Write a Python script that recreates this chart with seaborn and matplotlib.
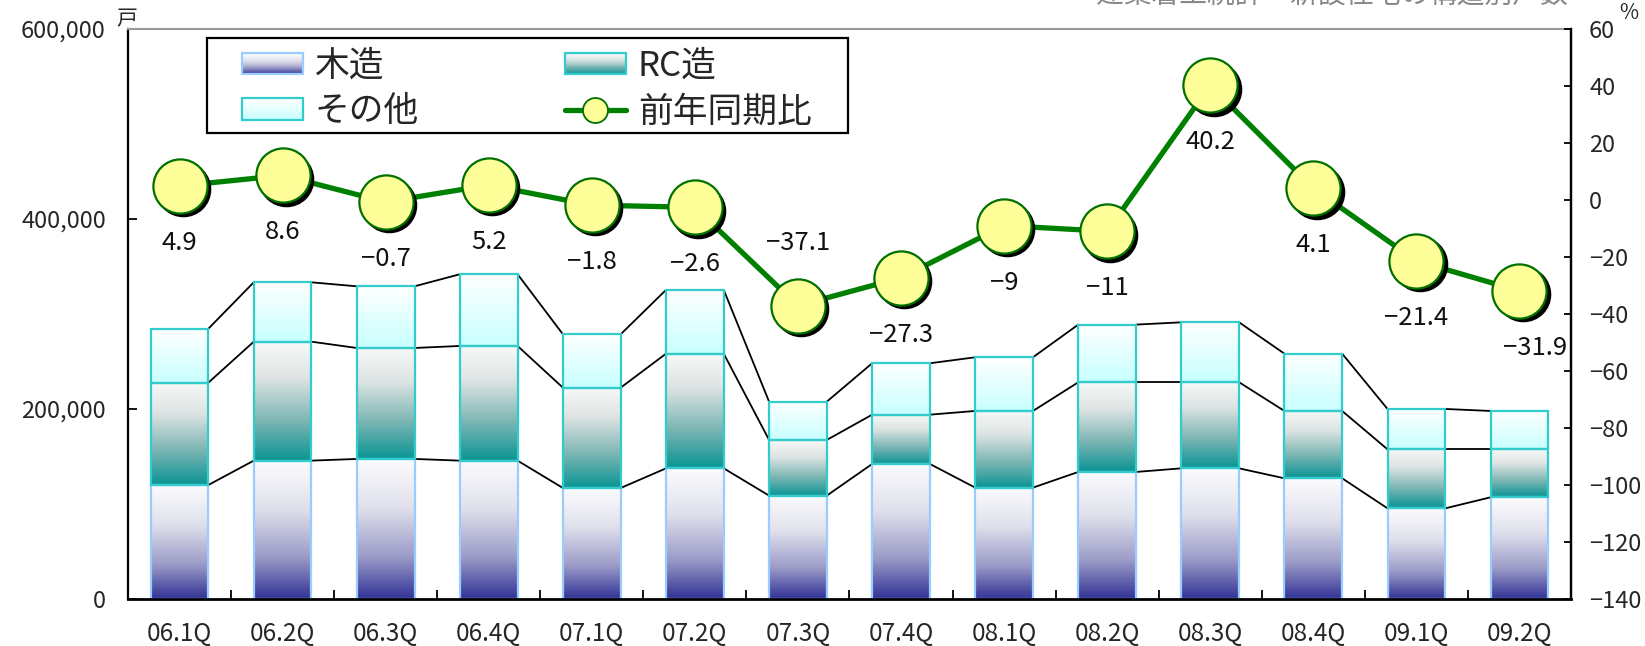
import numpy as np
import pandas as pd
import matplotlib
matplotlib.use("Agg")
import matplotlib.pyplot as plt
import matplotlib.transforms as mtransforms
import seaborn as sns
from matplotlib.colors import LinearSegmentedColormap
from matplotlib.patches import Rectangle
from matplotlib.lines import Line2D
from matplotlib.legend_handler import HandlerBase

# Data
quarters = ["06.1Q", "06.2Q", "06.3Q", "06.4Q", "07.1Q", "07.2Q", "07.3Q",
            "07.4Q", "08.1Q", "08.2Q", "08.3Q", "08.4Q", "09.1Q", "09.2Q"]
wood = [120000, 145600, 147400, 145600, 116800, 137500, 108800,
        142100, 117200, 133700, 137500, 127000, 95400, 107000]
rc = [107700, 125200, 116800, 120700, 105600, 120700, 58600,
      51900, 80700, 94400, 90600, 70900, 62100, 50500]
other = [56800, 62500, 64900, 75500, 56200, 67100, 40300,
         54100, 56500, 60700, 63100, 60300, 42500, 40400]
yoy = [4.9, 8.6, -0.7, 5.2, -1.8, -2.6, -37.1,
       -27.3, -9, -11, 40.2, 4.1, -21.4, -31.9]

left_ticks = [0, 200000, 400000, 600000]
right_ticks = list(range(-140, 61, 20))
series_names = ["木造", "RC造", "その他", "前年同期比"]

sns.set_theme(style="white")
plt.rcParams["font.family"] = ["Noto Sans CJK JP", "DejaVu Sans"]
plt.rcParams["axes.unicode_minus"] = True

df = pd.DataFrame({"quarter": quarters, "wood": wood, "rc": rc,
                   "other": other, "yoy": yoy})
df["rc_top"] = df["wood"] + df["rc"]
df["total"] = df["rc_top"] + df["other"]

# gradient colour maps (top -> bottom)
cm_wood = LinearSegmentedColormap.from_list(
    "wood", [(0, "#FCFCFE"), (0.35, "#E0E0EC"), (0.7, "#9B9BC8"), (1, "#323296")])
cm_rc = LinearSegmentedColormap.from_list(
    "rc", [(0, "#F8F8F8"), (0.3, "#DDE4E3"), (0.65, "#7FB7B5"), (1, "#0A9494")])
cm_other = LinearSegmentedColormap.from_list(
    "other", [(0, "#FFFFFF"), (1, "#C8FFFF")])

fig = plt.figure(figsize=(16.45, 6.46), dpi=100)
ax = fig.add_axes([0.0778, 0.0728, 0.8772, 0.8824])

bar_w = 0.56
layers = [("total", "rc_top", cm_other, "#33CCCC"),
          ("rc_top", "wood", cm_rc, "#33CCCC"),
          ("wood", None, cm_wood, "#99CCFF")]
layer_patches = {}
for col, below, cmap, edge in layers:
    n0 = len(ax.patches)
    sns.barplot(data=df, x="quarter", y=col, ax=ax, width=bar_w,
                color="white", saturation=1, errorbar=None)
    layer_patches[col] = ax.patches[n0:]

grad = np.linspace(0, 1, 256).reshape(-1, 1)
for col, below, cmap, edge in reversed(layers):
    pts = layer_patches[col]
    bottoms = df[below].values if below else np.zeros(len(df))
    for p, b in zip(pts, bottoms):
        p.set_visible(False)
        x0, w, top = p.get_x(), p.get_width(), p.get_height()
        ax.imshow(grad, extent=(x0, x0 + w, b, top), aspect="auto",
                  cmap=cmap, zorder=1.5, interpolation="bilinear")
        ax.add_patch(Rectangle((x0, b), w, top - b, fill=False,
                               edgecolor=edge, lw=1.6, zorder=2))
    # series lines between bars
    for i in range(len(pts) - 1):
        a, c = pts[i], pts[i + 1]
        ax.plot([a.get_x() + a.get_width(), c.get_x()],
                [a.get_height(), c.get_height()],
                color="black", lw=1.3, zorder=1.8)

ax.set_xlim(-0.5, len(quarters) - 0.5)
ax.set_ylim(0, 600000)
ax.set_yticks(left_ticks)
ax.set_yticklabels([f"{v:,}" for v in left_ticks])
ax.set_xlabel("")
ax.set_ylabel("")
ax.set_xticks(np.arange(len(quarters)))
ax.set_xticklabels(quarters)
ax.set_xticks(np.arange(len(quarters) - 1) + 0.5, minor=True)
ax.tick_params(axis="x", which="major", length=0, pad=16, labelsize=17.5)
ax.tick_params(axis="x", which="minor", direction="in", length=6.5,
               width=1.3, color="black", bottom=True)
ax.tick_params(axis="y", which="major", direction="in", length=6.5,
               width=1.3, color="black", left=True, pad=16, labelsize=17)
for s in ["left", "bottom", "right"]:
    ax.spines[s].set_color("black")
    ax.spines[s].set_linewidth(1.6)
ax.spines["bottom"].set_linewidth(2)
ax.spines["top"].set_color("#999999")
ax.spines["top"].set_linewidth(1.5)

# year-on-year line on the secondary axis
ax2 = ax.twinx()
xpos = np.arange(len(df))
sns.lineplot(x=xpos, y=df["yoy"], ax=ax2, color="#008000", lw=3.8,
             zorder=3, legend=False)
shadow = ax2.transData + mtransforms.ScaledTranslation(2.4 / 72, -2.4 / 72,
                                                      fig.dpi_scale_trans)
ax2.plot(xpos, df["yoy"], "o", ms=39, mfc="black", mec="black",
         transform=shadow, zorder=4)
sns.scatterplot(x=xpos, y=df["yoy"], ax=ax2, s=39 ** 2, color="#FFFF99",
                edgecolor="#007000", linewidth=1.6, zorder=5, legend=False)

for x, v in zip(xpos, df["yoy"]):
    dx, dy = 0, -41
    if v == -37.1:
        dy = 45
    if v == -31.9:
        dx = 11
    ax2.annotate(f"{v:g}".replace("-", "\u2212"), (x, v), xytext=(dx, dy),
                 textcoords="offset points", ha="center", va="center",
                 fontsize=18.5, color="#111111")

ax2.set_ylim(-140, 60)
ax2.set_yticks(right_ticks)
ax2.set_ylabel("")
ax2.tick_params(axis="y", direction="in", length=5, width=1.3, color="black",
                right=True, pad=13, labelsize=17)
for s in ["left", "bottom", "top"]:
    ax2.spines[s].set_visible(False)
ax2.spines["right"].set_color("black")
ax2.spines["right"].set_linewidth(1.6)


# legend with gradient swatches
class GradSwatch:
    def __init__(self, cmap, edge):
        self.cmap = cmap
        self.edge = edge


class GradHandler(HandlerBase):
    def create_artists(self, legend, orig, xdescent, ydescent, width,
                       height, fontsize, trans):
        arts = []
        steps = 24
        for k in range(steps):
            y0 = -ydescent + height * (1 - (k + 1) / steps)
            r = Rectangle((-xdescent, y0), width, height / steps,
                          facecolor=orig.cmap(k / (steps - 1)),
                          edgecolor="none", transform=trans)
            arts.append(r)
        arts.append(Rectangle((-xdescent, -ydescent), width, height,
                              fill=False, edgecolor=orig.edge, lw=1.6,
                              transform=trans))
        return arts


handles = [GradSwatch(cm_wood, "#99CCFF"), GradSwatch(cm_other, "#33CCCC"),
           GradSwatch(cm_rc, "#33CCCC"),
           Line2D([], [], color="#008000", lw=3.8, marker="o", ms=18,
                  mfc="#FFFF99", mec="#007000", mew=1.3)]
labels = [series_names[0], series_names[2], series_names[1], series_names[3]]
leg = ax2.legend(handles, labels, handler_map={GradSwatch: GradHandler()},
                 ncol=2, loc="upper left", bbox_to_anchor=(242 / 1645, 1 - 49 / 646),
                 bbox_transform=fig.transFigure, fontsize=25, frameon=False,
                 handlelength=1.75, handleheight=0.57, handletextpad=0.35,
                 columnspacing=4.2, labelspacing=0.3, borderpad=0,
                 borderaxespad=0)
leg.set_zorder(10)
frame = Rectangle((207 / 1645, 1 - 133 / 646), 641 / 1645, 95 / 646,
                  transform=fig.transFigure, fill=True, facecolor="white",
                  edgecolor="black", lw=1.6, zorder=9)
ax2.add_artist(frame)

# units and the clipped caption at the very top
fig.text(127 / 1645, 1 - 19 / 646, "戸", ha="center", va="center", fontsize=15)
fig.text(1629 / 1645, 1 - 13 / 646, "%", ha="center", va="center", fontsize=15)
fig.text(1096 / 1645, 1 + 4 / 646, "建築着工統計　新設住宅の構造別戸数",
         ha="left", va="center", fontsize=20, color="#888888")

fig.savefig("out.png", dpi=100)
